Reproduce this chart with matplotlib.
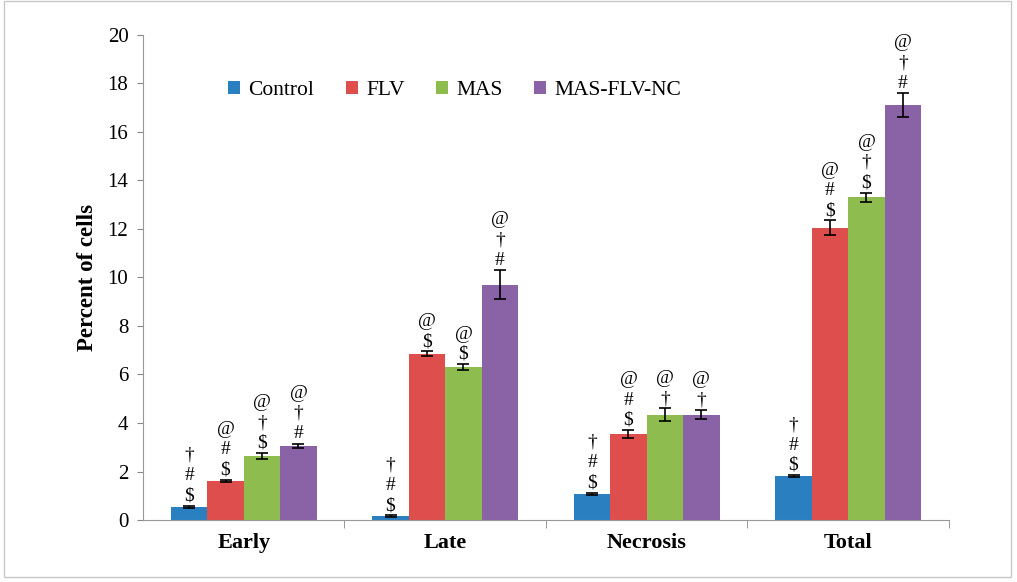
import numpy as np
import matplotlib.pyplot as plt
from matplotlib.patches import Rectangle

# data
categories = ['Early', 'Late', 'Necrosis', 'Total']
groups = ['Control', 'FLV', 'MAS', 'MAS-FLV-NC']
control = [0.55, 0.15, 1.08, 1.80]
flv = [1.62, 6.85, 3.55, 12.05]
mas = [2.65, 6.30, 4.35, 13.30]
nc = [3.05, 9.70, 4.35, 17.10]
err_control = [0.04, 0.04, 0.04, 0.04]
err_flv = [0.05, 0.10, 0.15, 0.30]
err_mas = [0.12, 0.12, 0.25, 0.20]
err_nc = [0.10, 0.60, 0.20, 0.50]
marks_control = ['†\n#\n$', '†\n#\n$', '†\n#\n$', '†\n#\n$']
marks_flv = ['@\n#\n$', '@\n$', '@\n#\n$', '@\n#\n$']
marks_mas = ['@\n†\n$', '@\n$', '@\n†', '@\n†\n$']
marks_nc = ['@\n†\n#', '@\n†\n#', '@\n†', '@\n†\n#']

colors = ['#2a7fc0', '#de4e4c', '#8fbc4f', '#8963a6']

plt.rcParams['font.family'] = ['Liberation Serif', 'DejaVu Serif']

fig = plt.figure(figsize=(10.17, 5.82), dpi=100)
ax = fig.add_axes([0.1406, 0.1065, 0.7925, 0.8335])

x = np.arange(len(categories))
w = 0.181
series = [control, flv, mas, nc]
errs = [err_control, err_flv, err_mas, err_nc]
marks = [marks_control, marks_flv, marks_mas, marks_nc]
for i in range(4):
    pos = x + (i - 1.5) * w
    ax.bar(pos, series[i], w, color=colors[i], label=groups[i],
           yerr=errs[i], capsize=4, error_kw=dict(elinewidth=1.2, capthick=1.2, ecolor='black'))
    for j in range(len(categories)):
        top = series[i][j] + errs[i][j]
        ax.annotate(marks[i][j], (pos[j], top), xytext=(0, 1), textcoords='offset points',
                    ha='center', va='bottom', fontsize=14, linespacing=1.25)

ax.set_xlim(-0.5, 3.5)
ax.set_ylim(0, 20)
ax.set_yticks(np.arange(0, 21, 2))
ax.tick_params(axis='y', labelsize=15, direction='out', length=4.5, color='#888888', pad=6)
ax.set_xticks(x)
ax.set_xticklabels(categories, fontsize=16, fontweight='bold')
ax.set_xticks([0.5, 1.5, 2.5, 3.5], minor=True)
ax.tick_params(axis='x', which='major', length=0, pad=9)
ax.tick_params(axis='x', which='minor', length=6, color='#888888', direction='out')
ax.set_ylabel('Percent of cells', fontsize=16.5, fontweight='bold', labelpad=7)
for s in ['top', 'right']:
    ax.spines[s].set_visible(False)
for s in ['left', 'bottom']:
    ax.spines[s].set_color('#999999')

ax.legend(loc='upper left', bbox_to_anchor=(0.095, 0.922), ncol=4, frameon=False,
          fontsize=15.5, handlelength=0.55, handleheight=0.55, handletextpad=0.4,
          columnspacing=1.45, borderaxespad=0)

fig.patches.append(Rectangle((0.004, 0.008), 0.99, 0.99, transform=fig.transFigure,
                             fill=False, edgecolor='#c8c8c8', linewidth=1))

fig.savefig('out.png', dpi=100)
